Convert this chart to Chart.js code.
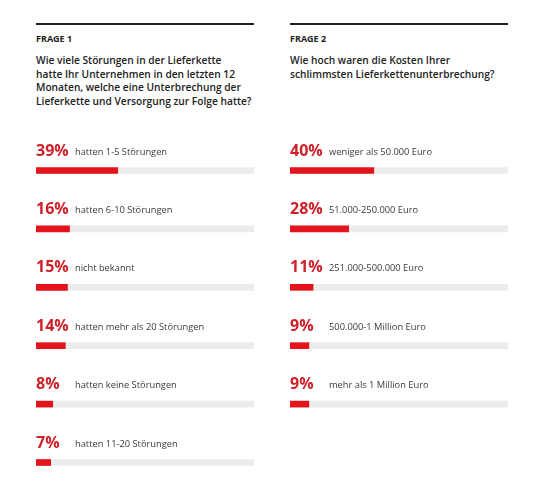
<!DOCTYPE html>
<html>
<head>
<meta charset="utf-8">
<script src="https://cdn.jsdelivr.net/npm/chart.js@4/dist/chart.umd.min.js"></script>
<style>
html,body{margin:0;padding:0;background:#fff;width:540px;height:482px;overflow:hidden;font-family:'Open Sans',sans-serif;}
.rule{position:absolute;height:2px;background:#222;top:23px;width:218px;}
.frage{position:absolute;font-size:9px;font-weight:700;color:#222;line-height:12.26px;top:33px;}
.q{position:absolute;font-size:10.2px;font-weight:600;color:#222;line-height:13.6px;top:54.2px;white-space:nowrap;}
canvas{position:absolute;top:130px;}
</style>
</head>
<body>
<div class="rule" style="left:36px"></div>
<div class="rule" style="left:290px"></div>
<div class="frage" style="left:36px">FRAGE 1</div>
<div class="frage" style="left:290px">FRAGE 2</div>
<div class="q" style="left:36px">Wie viele Störungen in der Lieferkette<br>hatte Ihr Unternehmen in den letzten 12<br>Monaten, welche eine Unterbrechung der<br>Lieferkette und Versorgung zur Folge hatte?</div>
<div class="q" style="left:290px">Wie hoch waren die Kosten Ihrer<br>schlimmsten Lieferkettenunterbrechung?</div>
<canvas id="c1" width="218" height="352" style="left:36px"></canvas>
<canvas id="c2" width="218" height="352" style="left:290px"></canvas>
<script>
const frage1Labels = ["hatten 1-5 Störungen","hatten 6-10 Störungen","nicht bekannt","hatten mehr als 20 Störungen","hatten keine Störungen","hatten 11-20 Störungen"];
const frage1Values = [39,16,15,14,8,7];
const frage2Labels = ["weniger als 50.000 Euro","51.000-250.000 Euro","251.000-500.000 Euro","500.000-1 Million Euro","mehr als 1 Million Euro"];
const frage2Values = [40,28,11,9,9];
const scaleMax = 104;

const labelPlugin = {
  id: 'rowLabels',
  afterDatasetsDraw(chart) {
    const ctx = chart.ctx;
    const meta = chart.getDatasetMeta(0);
    const labels = chart.data.labels;
    const vals = chart.data.datasets[0].data;
    const left = chart.chartArea.left;
    ctx.save();
    ctx.textBaseline = 'alphabetic';
    ctx.textAlign = 'left';
    meta.data.forEach((el, i) => {
      const y = el.y - 15;
      ctx.font = "bold 16px 'Open Sans'";
      ctx.fillStyle = '#cf1f28';
      ctx.fillText(vals[i] + '%', left, y);
      ctx.font = "9.3px 'Open Sans'";
      ctx.fillStyle = '#3a3a3a';
      ctx.fillText(labels[i], left + 39, y - 1);
    });
    ctx.restore();
  }
};

function makeChart(id, labels, values, bottomPad) {
  return new Chart(document.getElementById(id), {
    type: 'bar',
    data: {
      labels: labels,
      datasets: [
        {data: values, backgroundColor: '#e3141b', barThickness: 6, grouped: false, order: 0, clip: false},
        {data: labels.map(() => scaleMax), backgroundColor: '#ececec', barThickness: 6, grouped: false, order: 1, clip: false}
      ]
    },
    options: {
      indexAxis: 'y',
      responsive: false,
      animation: false,
      layout: {padding: {top: 40.5, bottom: bottomPad, left: 0, right: 0}},
      plugins: {legend: {display: false}, tooltip: {enabled: false}, title: {display: false}},
      scales: {
        x: {min: 0, max: scaleMax, display: false},
        y: {type: 'category', offset: false, display: false}
      }
    },
    plugins: [labelPlugin]
  });
}
makeChart('c1', frage1Labels, frage1Values, 19.5);
makeChart('c2', frage2Labels, frage2Values, 352 - 40.5 - 4 * 58.4);
</script>
</body>
</html>
